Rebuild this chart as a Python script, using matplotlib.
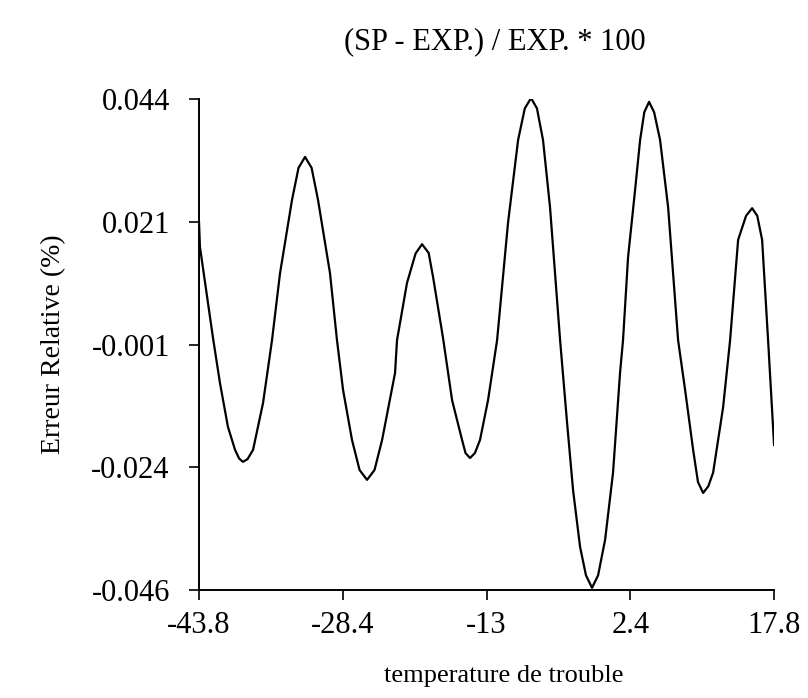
import matplotlib
matplotlib.use("Agg")
import matplotlib.pyplot as plt

# values
temp = [-43.8, -43.7, -42.3, -41.55, -40.7, -39.94, -39.5, -39.09, -38.6, -38.01,
        -36.94, -35.98, -35.12, -33.84, -33.14, -32.44, -31.74, -31.05, -29.77, -29.02,
        -28.37, -27.41, -26.6, -25.8, -25.0, -24.19, -22.8, -22.59, -21.52, -20.6,
        -19.91, -19.2, -18.73, -17.66, -16.69, -15.62, -15.25, -14.77, -14.25, -13.7,
        -12.84, -11.87, -10.7, -9.62, -8.9, -8.23, -7.6, -6.95, -6.2, -5.12,
        -4.37, -3.73, -2.98, -2.35, -1.7, -1.05, -0.3, 0.55, 1.3, 1.62,
        2.16, 2.91, 3.45, 3.9, 4.41, 4.95, 5.59, 6.45, 7.52, 8.27,
        9.13, 9.65, 10.2, 10.75, 11.27, 12.34, 13.09, 13.95, 14.8, 15.45,
        16.0, 16.52, 17.16, 17.8]
erreur = [0.0215, 0.0169, 0.0002, -0.0081, -0.0161, -0.0203, -0.0219, -0.0225, -0.0220, -0.0203,
          -0.0117, -0.0002, 0.0121, 0.0255, 0.0314, 0.0334, 0.0314, 0.0255, 0.0121, -0.0002,
          -0.0093, -0.0185, -0.0240, -0.0258, -0.0240, -0.0185, -0.0062, -0.0002, 0.0103, 0.0157,
          0.0174, 0.0158, 0.0114, 0.0002, -0.0112, -0.0185, -0.0209, -0.0218, -0.0209, -0.0185,
          -0.0112, -0.0002, 0.0213, 0.0365, 0.0423, 0.0442, 0.0423, 0.0365, 0.0242, -0.0002,
          -0.0154, -0.0277, -0.0381, -0.0433, -0.0456, -0.0433, -0.0368, -0.0245, -0.0062, -0.0002,
          0.0150, 0.0273, 0.0365, 0.0416, 0.0435, 0.0416, 0.0365, 0.0242, -0.0002, -0.0093,
          -0.0203, -0.0262, -0.0282, -0.0270, -0.0245, -0.0125, -0.0002, 0.0182, 0.0226, 0.0240,
          0.0226, 0.0182, -0.0002, -0.0194]

xticks = [-43.8, -28.4, -13, 2.4, 17.8]
xlabels = ['-43.8', '-28.4', '-13', '2.4', '17.8']
yticks = [-0.046, -0.0235, -0.001, 0.0215, 0.044]
ylabels = ['-0.046', '-0.024', '-0.001', '0.021', '0.044']

plt.rcParams['font.family'] = ['Liberation Serif', 'DejaVu Serif']

fig = plt.figure(figsize=(8.08, 6.98), dpi=100)
ax = fig.add_axes([0.2463, 0.1547, 0.7117, 0.7033])

ax.plot(temp, erreur, color='black', lw=1.6, solid_joinstyle='round')

ax.set_xlim(-43.8, 17.8)
ax.set_ylim(-0.046, 0.044)
ax.set_xticks(xticks)
ax.set_xticklabels(xlabels)
ax.set_yticks(yticks)
ax.set_yticklabels(ylabels)
ax.tick_params(direction='out', length=7, width=1.2, labelsize=22, pad=8)
ax.tick_params(axis='y', pad=14)

for s in ['top', 'right']:
    ax.spines[s].set_visible(False)
for s in ['left', 'bottom']:
    ax.spines[s].set_linewidth(1.4)

ax.set_title('(SP - EXP.) / EXP. * 100', fontsize=22, pad=36, x=0.515)
ax.set_xlabel('temperature de trouble', fontsize=19, labelpad=18, x=0.53)
ax.set_ylabel('Erreur Relative (%)', fontsize=20, labelpad=18)

fig.savefig('out.png', dpi=100)
